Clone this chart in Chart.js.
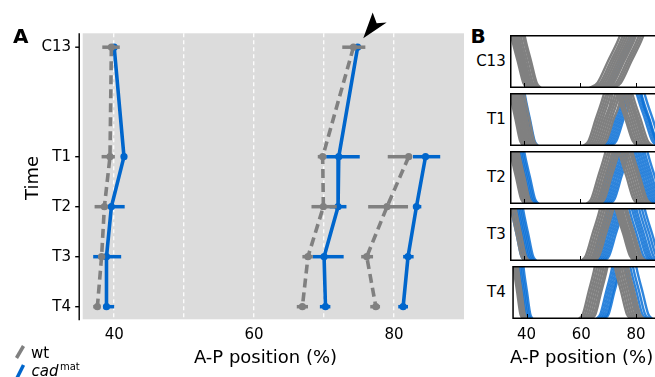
<!DOCTYPE html>
<html><head><meta charset="utf-8">
<script src="https://cdn.jsdelivr.net/npm/chart.js@4.4.1/dist/chart.umd.min.js"></script>
<style>
body{margin:0;background:#fff}
#wrap{position:relative;width:655px;height:377px;overflow:hidden;background:#fff;font-family:'DejaVu Sans',sans-serif;color:#000}
canvas{position:absolute}
.t{position:absolute;white-space:nowrap}
</style></head>
<body>
<div id="wrap">
<canvas id="cA" width="470" height="377" style="left:0;top:0"></canvas>
<canvas id="b0" width="155" height="53" style="left:510px;top:35px"></canvas>
<canvas id="b1" width="155" height="53" style="left:510px;top:93px"></canvas>
<canvas id="b2" width="155" height="53" style="left:510px;top:151px"></canvas>
<canvas id="b3" width="155" height="53" style="left:510px;top:208px"></canvas>
<canvas id="b4" width="155" height="88" style="left:510px;top:266px"></canvas>

<div class="t" style="left:13px;top:25.8px;font-size:20px;line-height:20px;font-weight:bold">A</div>
<div class="t" style="left:470.5px;top:25.8px;font-size:20px;line-height:20px;font-weight:bold">B</div>
<div class="t" style="left:31.5px;top:177.5px;font-size:18px;line-height:18px;transform:translate(-50%,-50%) rotate(-90deg)">Time</div>
<div class="t" style="left:265.5px;top:347.8px;font-size:18px;line-height:18px;transform:translateX(-50%)">A-P position (%)</div>
<div class="t" style="left:510px;top:347.8px;font-size:18px;line-height:18px">A-P position (%)</div>

<svg style="position:absolute;left:0;top:330px" width="40" height="47">
<line x1="16.5" y1="28" x2="23.5" y2="16" stroke="#808080" stroke-width="3.5"/>
<line x1="16.5" y1="49" x2="23.5" y2="35" stroke="#0066cc" stroke-width="3.5"/>
</svg>
<div class="t" style="left:31px;top:345.6px;font-size:15px;line-height:15px">wt</div>
<div class="t" style="left:31.5px;top:363.7px;font-size:15px;line-height:15px;font-style:italic">cad</div>
<div class="t" style="left:60px;top:361.5px;font-size:10px;line-height:10px">mat</div>
</div>
<script>
// ---------- Panel A data ----------
const timeLabels = ['C13', 'T1', 'T2', 'T3', 'T4'];
const timeValues = [5.19, 3, 2, 1, 0];
const aTickValues = [40, 50, 60, 70, 80];
const aTickLabels = ['40', '', '60', '', '80'];

const wtAnt    = [39.6, 39.4, 38.6, 38.2, 37.6];
const wtAntLo  = [38.3, 38.2, 37.2, 37.7, 37.0];
const wtAntHi  = [40.8, 40.1, 39.1, 38.7, 38.0];
const wtMid    = [74.2, 69.8, 69.9, 67.7, 66.9];
const wtMidLo  = [72.6, 69.1, 68.2, 66.9, 66.1];
const wtMidHi  = [75.9, 70.3, 71.8, 68.4, 67.7];
const wtPost   = [null, 82.1, 79.0, 76.1, 77.4];
const wtPostLo = [null, 79.1, 76.3, 75.3, 76.6];
const wtPostHi = [null, 82.2, 82.0, 77.0, 78.0];

const cadAnt    = [40.0, 41.4, 39.6, 38.9, 38.9];
const cadAntLo  = [39.8, 41.2, 39.1, 37.0, 38.4];
const cadAntHi  = [40.2, 41.6, 41.5, 41.0, 40.0];
const cadMid    = [74.8, 72.1, 72.0, 70.0, 70.2];
const cadMidLo  = [74.6, 70.3, 70.8, 68.4, 69.4];
const cadMidHi  = [75.0, 75.1, 73.2, 72.8, 70.9];
const cadPost   = [null, 84.5, 83.2, 82.0, 81.3];
const cadPostLo = [null, 82.7, 82.7, 81.3, 80.6];
const cadPostHi = [null, 86.6, 83.9, 82.8, 82.0];

const arrowTip = [75.6, 5.37];

// ---------- Panel B data (half-max positions of individual profiles) ----------
const bTickValues = [40, 60, 80];
const grayLeftC13 = [37.6, 38.2, 38.8, 39.3, 39.8, 40.3, 41.0, 41.8, 42.4];
const blueLeftC13 = [39.6];
const grayRiseC13 = [70.0, 71.0, 71.8, 72.6, 73.4, 74.2, 75.0, 75.8, 76.8, 77.6, 78.4];
const blueRiseC13 = [74.2, 75.2];

const grayLeftT1 = [36.8, 37.4, 38.0, 38.6, 39.2, 39.8, 40.4, 41.0, 41.8];
const blueLeftT1 = [41.0, 41.5, 42.0];
const grayPeaksT1 = [[65.6,77.0],[66.4,76.4],[67.2,78.6],[68.0,79.4],[68.8,77.8],[69.6,81.0],[70.4,80.2],[71.2,81.8],[72.0,80.6]];
const bluePeaksT1 = [[72.4,83.4],[73.2,84.2],[74.0,85.0],[74.8,86.2],[75.6,84.8]];

const grayLeftT2 = [37.0, 37.6, 38.2, 38.8, 39.4, 40.0];
const blueLeftT2 = [38.4, 39.0, 39.6, 40.2, 40.8, 41.4, 42.0];
const grayPeaksT2 = [[66.4,77.6],[67.2,76.8],[68.0,79.2],[68.8,78.4],[69.6,80.8],[70.4,80.0],[71.2,81.6]];
const bluePeaksT2 = [[69.2,82.0],[70.0,81.2],[70.8,83.6],[71.6,82.8],[72.4,85.2],[73.2,84.4],[74.0,86.0],[74.8,87.0]];

const grayLeftT3 = [37.2, 38.0, 38.8];
const blueLeftT3 = [37.2, 37.8, 38.4, 39.0, 39.6, 40.2, 40.8, 41.4];
const grayPeaksT3 = [[64.4,76.2],[65.2,75.6],[66.0,77.4],[66.8,76.8],[67.6,78.8],[68.4,78.0],[69.2,79.6]];
const bluePeaksT3 = [[67.2,80.4],[68.0,79.4],[68.8,82.2],[69.6,81.4],[70.4,84.0],[71.2,83.0],[72.0,85.0],[72.8,86.0]];

const grayLeftT4 = [36.6, 37.0, 37.4, 37.8, 38.2];
const blueLeftT4 = [38.4, 39.0, 39.6, 40.2];
const grayPeaksT4 = [[62.6,75.4],[63.4,74.6],[64.2,77.0],[65.0,76.2],[65.8,78.6],[66.6,77.8],[67.2,79.4]];
const bluePeaksT4 = [[69.0,79.2],[69.8,78.2],[70.6,81.2],[71.4,80.2],[72.0,82.4]];

// profile flank shape: [offset in flank widths, level]
const fallShape = [[-1.6,1.9],[-0.8,1.3],[-0.45,0.9],[0,0.5],[0.45,0.1],[0.8,0]];
const riseShape = [[-0.8,0],[-0.45,0.1],[0,0.5],[0.45,0.9],[0.8,1.3],[1.6,1.9]];
const leftFlankWidth  = [4.4, 3.6, 3.9, 3.6, 2.5];
const rightFlankWidth = [8.2, 5.6, 5.2, 5.2, 4.4];
const peakLevel = 1.75;

const GRAY = '#808080';
const BLUE = '#0066cc';
const BLUE_B = 'rgba(10,112,214,0.85)';
Chart.defaults.font.family = "'DejaVu Sans', sans-serif";
Chart.defaults.color = '#000';

// ---------- Panel A ----------
function stripe(vals, lo, hi, color, dashed) {
  const pts = [], l = [], h = [];
  vals.forEach((v, i) => { if (v !== null) { pts.push({x: v, y: timeValues[i]}); l.push(lo[i]); h.push(hi[i]); } });
  return {
    data: pts, errLo: l, errHi: h,
    borderColor: color, backgroundColor: color, borderWidth: 3.6,
    borderDash: dashed ? [9, 5] : [], pointRadius: 3.6, pointBorderWidth: 0,
    pointBackgroundColor: color, showLine: true, fill: false, tension: 0
  };
}
const bgPlugin = {
  id: 'bg',
  beforeDraw(chart) {
    const a = chart.chartArea, c = chart.ctx;
    c.save(); c.fillStyle = '#dcdcdc'; c.fillRect(a.left, a.top, a.right - a.left, a.bottom - a.top); c.restore();
  }
};
const errPlugin = {
  id: 'err',
  afterDatasetDraw(chart, args) {
    const ds = chart.data.datasets[args.index];
    if (!ds.errLo) return;
    const xs = chart.scales.x, ys = chart.scales.y, c = chart.ctx;
    c.save(); c.strokeStyle = ds.borderColor; c.lineWidth = 3.5; c.setLineDash([]); c.lineCap = 'butt';
    ds.data.forEach((p, i) => {
      const y = ys.getPixelForValue(p.y);
      c.beginPath();
      c.moveTo(xs.getPixelForValue(ds.errLo[i]), y);
      c.lineTo(xs.getPixelForValue(ds.errHi[i]), y);
      c.stroke();
    });
    c.restore();
  }
};
const decoPlugin = {
  id: 'deco',
  afterDraw(chart) {
    const a = chart.chartArea, c = chart.ctx, ys = chart.scales.y, xs = chart.scales.x;
    c.save();
    c.strokeStyle = '#000'; c.lineWidth = 1.4;
    const sx = a.left - 3.5;
    c.beginPath(); c.moveTo(sx, a.top); c.lineTo(sx, a.bottom + 1); c.stroke();
    ys.ticks.forEach(t => {
      const y = ys.getPixelForValue(t.value);
      c.beginPath(); c.moveTo(sx - 4, y); c.lineTo(sx, y); c.stroke();
    });
    const x = xs.getPixelForValue(arrowTip[0]), y = ys.getPixelForValue(arrowTip[1]);
    c.fillStyle = '#000';
    c.beginPath(); c.moveTo(x, y); c.lineTo(x + 9.4, y - 25.6); c.lineTo(x + 13.4, y - 15); c.lineTo(x + 23.4, y - 15.6); c.closePath(); c.fill();
    c.restore();
  }
};
new Chart(document.getElementById('cA'), {
  type: 'line',
  data: { datasets: [
    stripe(wtAnt, wtAntLo, wtAntHi, GRAY, true),
    stripe(wtMid, wtMidLo, wtMidHi, GRAY, true),
    stripe(wtPost, wtPostLo, wtPostHi, GRAY, true),
    stripe(cadAnt, cadAntLo, cadAntHi, BLUE, false),
    stripe(cadMid, cadMidLo, cadMidHi, BLUE, false),
    stripe(cadPost, cadPostLo, cadPostHi, BLUE, false)
  ]},
  options: {
    responsive: false, animation: false, devicePixelRatio: 1,
    layout: { padding: { top: 33.3, right: 6, left: 0, bottom: 0 } },
    plugins: { legend: { display: false }, tooltip: { enabled: false } },
    scales: {
      x: {
        type: 'linear', min: 35.5, max: 90,
        border: { display: false, dash: [4, 3] },
        grid: { color: 'rgba(255,255,255,0.9)', lineWidth: 1.4, drawTicks: false },
        afterBuildTicks: s => { s.ticks = aTickValues.map(v => ({ value: v })); },
        ticks: { callback: v => aTickLabels[aTickValues.indexOf(v)], font: { size: 15 }, padding: 7, maxRotation: 0, autoSkip: false },
        afterFit: s => { s.height = 57.7; }
      },
      y: {
        type: 'linear', min: -0.252, max: 5.468,
        border: { display: false },
        grid: { display: false, drawTicks: false },
        afterBuildTicks: s => { s.ticks = timeValues.map(v => ({ value: v })); },
        ticks: { callback: v => timeLabels[timeValues.indexOf(v)], font: { size: 15 }, padding: 11.7, autoSkip: false },
        afterFit: s => { s.width = 82.7; }
      }
    }
  },
  plugins: [bgPlugin, errPlugin, decoPlugin]
});

// ---------- Panel B ----------
function leftCurve(mid, w) { return fallShape.map(([u, y]) => ({ x: mid + u * w, y })); }
function riseCurve(mid, w) { return riseShape.map(([u, y]) => ({ x: mid + u * w, y })); }
function peakCurve(pair, w) {
  const apex = (pair[0] + pair[1]) / 2;
  const r = riseShape.slice(0, 5).map(([u, y]) => ({ x: pair[0] + u * w, y })).filter(p => p.x < apex - 0.3);
  const f = fallShape.slice(1).map(([u, y]) => ({ x: pair[1] + u * w, y })).filter(p => p.x > apex + 0.3);
  return r.concat([{ x: apex, y: peakLevel }], f);
}
function ds(points, color) {
  return { data: points, borderColor: color, borderWidth: 2.4, pointRadius: 0, fill: false, cubicInterpolationMode: 'monotone' };
}
const panelsB = [
  [grayLeftC13, blueLeftC13, [], [], grayRiseC13, blueRiseC13],
  [grayLeftT1, blueLeftT1, grayPeaksT1, bluePeaksT1, [], []],
  [grayLeftT2, blueLeftT2, grayPeaksT2, bluePeaksT2, [], []],
  [grayLeftT3, blueLeftT3, grayPeaksT3, bluePeaksT3, [], []],
  [grayLeftT4, blueLeftT4, grayPeaksT4, bluePeaksT4, [], []]
];
const framePlugin = {
  id: 'frame',
  afterDraw(chart) {
    const a = chart.chartArea, c = chart.ctx, xs = chart.scales.x;
    c.save(); c.strokeStyle = '#000'; c.lineWidth = 1.5;
    c.strokeRect(a.left + 0.75, a.top + 0.75, a.right - a.left - 1.5, a.bottom - a.top - 1.5);
    c.lineWidth = 1;
    bTickValues.forEach(v => {
      const x = Math.round(xs.getPixelForValue(v)) + 0.5;
      c.beginPath(); c.moveTo(x, a.bottom - 1); c.lineTo(x, a.bottom - 5); c.stroke();
    });
    c.restore();
  }
};
const panelTops = [35, 93, 151, 208, 266];
panelsB.forEach((p, k) => {
  const [gL, bL, gP, bP, gR, bR] = p;
  const wl = leftFlankWidth[k], wr = rightFlankWidth[k];
  const sets = [];
  gL.forEach(m => sets.push(ds(leftCurve(m, wl), GRAY)));
  gR.forEach(m => sets.push(ds(riseCurve(m, wr), GRAY)));
  gP.forEach(pr => sets.push(ds(peakCurve(pr, wr), GRAY)));
  bL.forEach(m => sets.push(ds(leftCurve(m, wl), BLUE_B)));
  bR.forEach(m => sets.push(ds(riseCurve(m, wr), BLUE_B)));
  bP.forEach(pr => sets.push(ds(peakCurve(pr, wr), BLUE_B)));
  const bottom = k === 4;
  const xOpts = {
    type: 'linear', min: 34.8, max: 34.8 + 155 / 2.78, display: bottom,
    border: { display: false }, grid: { display: false, drawTicks: false },
    afterBuildTicks: s => { s.ticks = bTickValues.map(v => ({ value: v })); },
    ticks: { font: { size: 15 }, padding: 7, maxRotation: 0, autoSkip: false }
  };
  if (bottom) xOpts.afterFit = s => { s.height = 35; };
  new Chart(document.getElementById('b' + k), {
    type: 'line',
    data: { datasets: sets },
    options: {
      responsive: false, animation: false, devicePixelRatio: 1,
      layout: { padding: 0 },
      plugins: { legend: { display: false }, tooltip: { enabled: false } },
      scales: {
        x: xOpts,
        y: { type: 'linear', min: 0, max: 1, display: false }
      }
    },
    plugins: [framePlugin]
  });
  const lab = document.createElement('div');
  lab.className = 't';
  lab.textContent = timeLabels[k];
  lab.style.cssText = 'right:' + (655 - 505.7) + 'px;top:' + (panelTops[k] + 26.5 - 7.2) + 'px;font-size:15px;line-height:15px';
  document.getElementById('wrap').appendChild(lab);
});
</script>
</body></html>
